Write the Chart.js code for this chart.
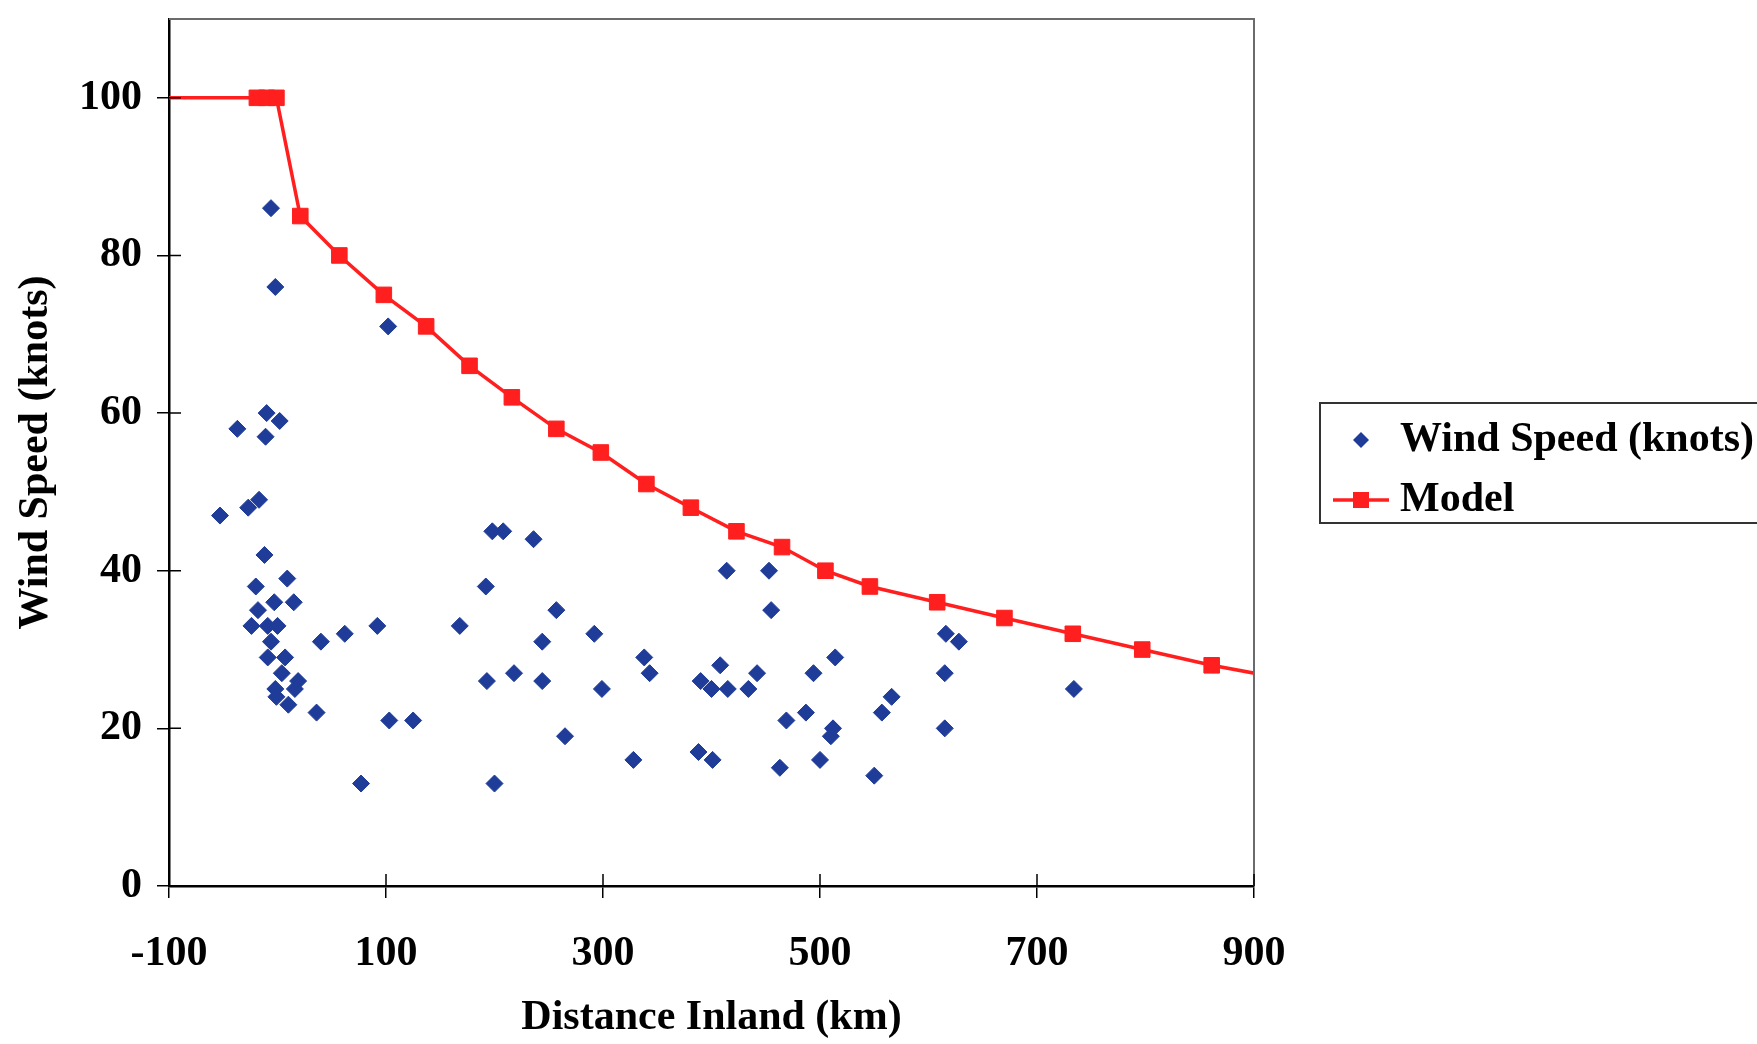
<!DOCTYPE html>
<html>
<head>
<meta charset="utf-8">
<title>Wind Speed vs Distance Inland</title>
<script src="https://cdn.jsdelivr.net/npm/chart.js@4.4.1/dist/chart.umd.min.js"></script>
<style>
    html, body { margin: 0; padding: 0; background: #fff; }
    #wrap { width: 1757px; height: 1044px; }
</style>
</head>
<body>
<div id="wrap"><canvas id="windChart" width="1757" height="1044"></canvas></div>
<script>
// observed wind speeds (knots) against distance inland (km)
const obsDistance = [
    -6, -2, 102, -37, -10, 2, -11, -53, -27, -17,
    198, 208, -12, 9, 192, -20, -3, 15, -18, -24,
    -9, 0, 92, 168, 62, 40, -6, -9, 7, 4,
    19, -2, 16, -1, 10, 36, 193, 218, 103, 125,
    77, 200, 236, 257, 244, 292, 414, 453, 455, 244,
    299, 338, 343, 408, 390, 400, 415, 434, 442, 494,
    469, 487, 265, 328, 388, 401, 463, 500, 514, 616,
    628, 615, 566, 557, 512, 510, 615, 550, 734
];
const obsSpeed = [
    86, 76, 71, 58, 60, 59, 57, 47, 48, 49,
    45, 45, 42, 39, 38, 38, 36, 36, 35, 33,
    33, 33, 33, 33, 32, 31, 31, 29, 29, 27,
    26, 25, 25, 24, 23, 22, 26, 27, 21, 21,
    13, 13, 44, 35, 31, 32, 40, 40, 35, 26,
    25, 29, 27, 28, 26, 25, 25, 25, 27, 27,
    21, 22, 19, 16, 17, 16, 15, 16, 29, 32,
    31, 27, 24, 22, 20, 19, 20, 14, 25
];

// model decay curve
const modelDistance = [-100, -19, -10, -1, 21, 57, 98, 137, 177, 216, 257, 298, 340, 381, 423, 465, 505, 546, 608, 670, 733, 797, 861, 924];
const modelSpeed = [100, 100, 100, 100, 85, 80, 75, 71, 66, 62, 58, 55, 51, 48, 45, 43, 40, 38, 36, 34, 32, 30, 28, 26.4];

const xTicks = [-100, 100, 300, 500, 700, 900];
const yTicks = [0, 20, 40, 60, 80, 100];

const BLUE = '#1f3c99';
const RED = '#ff1f1f';
const FONT = "'Liberation Serif', 'Times New Roman', serif";

Chart.defaults.font.family = FONT;
Chart.defaults.font.size = 42;
Chart.defaults.font.weight = 'bold';
Chart.defaults.color = '#000';

// plot frame (top/right) and tick marks that cross the axes
const frameAndTicks = {
    id: 'frameAndTicks',
    afterDatasetsDraw(chart) {
        const { ctx, chartArea: a, scales } = chart;
        ctx.save();
        ctx.strokeStyle = '#6b6b6b';
        ctx.lineWidth = 2;
        ctx.beginPath();
        ctx.moveTo(a.left, a.top);
        ctx.lineTo(a.right, a.top);
        ctx.lineTo(a.right, a.bottom);
        ctx.stroke();

        ctx.strokeStyle = '#000';
        ctx.lineWidth = 1.5;
        ctx.beginPath();
        scales.x.ticks.forEach(t => {
            const px = scales.x.getPixelForValue(t.value);
            ctx.moveTo(px, a.bottom);
            ctx.lineTo(px, a.bottom - 12);
        });
        scales.y.ticks.forEach(t => {
            const py = scales.y.getPixelForValue(t.value);
            ctx.moveTo(a.left, py);
            ctx.lineTo(a.left + 12, py);
        });
        ctx.stroke();
        ctx.restore();
    }
};

// boxed legend to the right of the plot
const sideLegend = {
    id: 'sideLegend',
    afterDraw(chart) {
        const { ctx, chartArea: a } = chart;
        const sets = chart.data.datasets;
        const left = a.right + 66;
        const top = 403, bottom = 523;
        const rowY = [440, 500];
        const iconX = left + 41;
        const textX = left + 80;

        ctx.save();
        ctx.strokeStyle = '#333';
        ctx.lineWidth = 2;
        ctx.strokeRect(left, top, chart.width - left + 20, bottom - top);

        // diamond marker
        ctx.fillStyle = BLUE;
        ctx.beginPath();
        ctx.moveTo(iconX, rowY[0] - 8);
        ctx.lineTo(iconX + 8, rowY[0]);
        ctx.lineTo(iconX, rowY[0] + 8);
        ctx.lineTo(iconX - 8, rowY[0]);
        ctx.closePath();
        ctx.fill();

        // line with square marker
        ctx.strokeStyle = RED;
        ctx.lineWidth = 3.5;
        ctx.beginPath();
        ctx.moveTo(iconX - 28, rowY[1]);
        ctx.lineTo(iconX + 28, rowY[1]);
        ctx.stroke();
        ctx.fillStyle = RED;
        ctx.fillRect(iconX - 8, rowY[1] - 8, 16, 16);

        ctx.fillStyle = '#000';
        ctx.font = 'bold 42px ' + FONT;
        ctx.textBaseline = 'middle';
        ctx.textAlign = 'left';
        ctx.fillText(sets[0].label, textX, rowY[0]);
        ctx.fillText(sets[1].label, textX, rowY[1]);
        ctx.restore();
    }
};

const ctx = document.getElementById('windChart').getContext('2d');

new Chart(ctx, {
    type: 'scatter',
    data: {
        datasets: [
            {
                label: 'Wind Speed (knots)',
                data: obsDistance.map((d, i) => ({ x: d, y: obsSpeed[i] })),
                pointStyle: 'rectRot',
                pointRadius: 8.5,
                backgroundColor: BLUE,
                borderColor: BLUE,
                borderWidth: 1
            },
            {
                label: 'Model',
                type: 'line',
                data: modelDistance.map((d, i) => ({ x: d, y: modelSpeed[i] })),
                showLine: true,
                borderColor: RED,
                borderWidth: 3.5,
                backgroundColor: RED,
                pointStyle: 'rect',
                pointRadius: c => (c.raw && c.raw.x <= -100 ? 0 : 11),
                pointBorderWidth: 1,
                pointBorderColor: RED,
                fill: false,
                tension: 0,
                clip: 0
            }
        ]
    },
    options: {
        responsive: false,
        animation: false,
        events: [],
        layout: {
            padding: { left: 0, top: 19, right: 503, bottom: 0 }
        },
        plugins: {
            legend: { display: false },
            tooltip: { enabled: false }
        },
        scales: {
            x: {
                type: 'linear',
                min: -100,
                max: 900,
                afterBuildTicks: axis => { axis.ticks = xTicks.map(v => ({ value: v })); },
                afterFit: axis => { axis.height = 158; },
                grid: { drawOnChartArea: false, tickLength: 12, color: '#000', lineWidth: 1.5 },
                border: { color: '#000', width: 2.5 },
                ticks: { padding: 31, maxRotation: 0, font: { size: 42, weight: 'bold' } },
                title: {
                    display: true,
                    text: 'Distance Inland (km)',
                    font: { size: 42, weight: 'bold' },
                    padding: { top: 0, bottom: 1 }
                }
            },
            y: {
                type: 'linear',
                min: 0,
                max: 110,
                afterBuildTicks: axis => { axis.ticks = yTicks.map(v => ({ value: v })); },
                afterFit: axis => {
                    axis.width = 169;
                    axis.paddingTop = 0;
                    axis.paddingBottom = 0;
                },
                grid: { drawOnChartArea: false, tickLength: 12, color: '#000', lineWidth: 1.5 },
                border: { color: '#000', width: 2.5 },
                ticks: { padding: 15, font: { size: 42, weight: 'bold' } },
                title: {
                    display: true,
                    text: 'Wind Speed (knots)',
                    font: { size: 42, weight: 'bold' },
                    padding: { top: 11, bottom: 0 }
                }
            }
        }
    },
    plugins: [frameAndTicks, sideLegend]
});
</script>
</body>
</html>
